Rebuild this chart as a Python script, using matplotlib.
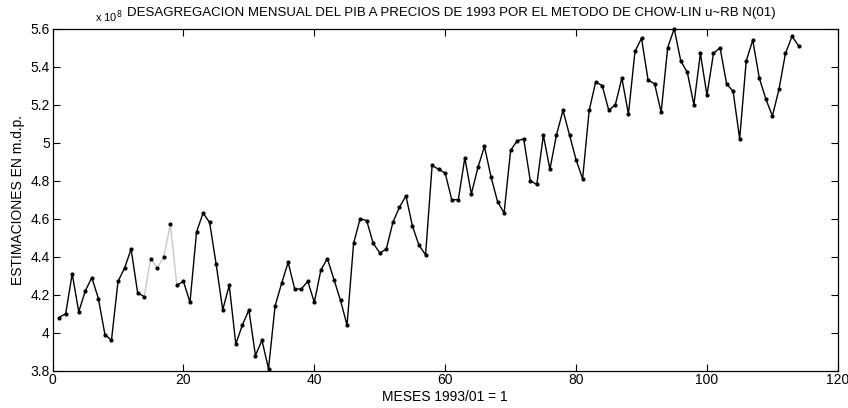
import matplotlib
matplotlib.use("Agg")
import matplotlib.pyplot as plt
import numpy as np

plt.rcParams['font.family'] = ['Liberation Sans', 'DejaVu Sans']

# monthly GDP estimates, units of 10^8 (m.d.p.), month 1 = 1993/01
meses = np.arange(1, 115)
pib = np.array([
    4.08, 4.10, 4.31, 4.11, 4.22, 4.29, 4.18, 3.99, 3.96, 4.27,
    4.34, 4.44, 4.21, 4.19, 4.39, 4.34, 4.40, 4.57, 4.25, 4.27,
    4.16, 4.53, 4.63, 4.58, 4.36, 4.12, 4.25, 3.94, 4.04, 4.12,
    3.88, 3.96, 3.81, 4.14, 4.26, 4.37, 4.23, 4.23, 4.27, 4.16,
    4.33, 4.39, 4.28, 4.17, 4.04, 4.47, 4.60, 4.59, 4.47, 4.42,
    4.44, 4.58, 4.66, 4.72, 4.56, 4.46, 4.41, 4.88, 4.86, 4.84,
    4.70, 4.70, 4.92, 4.73, 4.87, 4.98, 4.82, 4.69, 4.63, 4.96,
    5.01, 5.02, 4.80, 4.78, 5.04, 4.86, 5.04, 5.17, 5.04, 4.91,
    4.81, 5.17, 5.32, 5.30, 5.17, 5.20, 5.34, 5.15, 5.48, 5.55,
    5.33, 5.31, 5.16, 5.50, 5.60, 5.43, 5.37, 5.20, 5.47, 5.25,
    5.47, 5.50, 5.31, 5.27, 5.02, 5.43, 5.54, 5.34, 5.23, 5.14,
    5.28, 5.47, 5.56, 5.51])

xticks = [0, 20, 40, 60, 80, 100, 120]
yticks = [3.8, 4.0, 4.2, 4.4, 4.6, 4.8, 5.0, 5.2, 5.4, 5.6]
ylabels = ['3.8', '4', '4.2', '4.4', '4.6', '4.8', '5', '5.2', '5.4', '5.6']

fig = plt.figure(figsize=(8.48, 4.08), dpi=100)
ax = fig.add_axes([0.062, 0.0914, 0.926, 0.8383])

# faded part of the scanned line (months 14-19)
ax.plot(meses[13:19], pib[13:19], color='#c8c8c8', lw=1.0, zorder=1)
ax.plot(meses[:14], pib[:14], color='black', lw=1.0, zorder=2)
ax.plot(meses[18:], pib[18:], color='black', lw=1.0, zorder=2)
ax.plot(meses, pib, ls='none', marker='.', ms=4, color='black', zorder=3,
        clip_on=False)

ax.set_xlim(0, 120)
ax.set_ylim(3.8, 5.6)
ax.set_xticks(xticks)
ax.set_yticks(yticks)
ax.set_yticklabels(ylabels)
ax.tick_params(direction='in', top=True, right=True, length=5, width=0.8,
               labelsize=10, pad=2)
for s in ax.spines.values():
    s.set_linewidth(0.9)

ax.text(0.054, 1.012, r'x 10$^8$', transform=ax.transAxes, fontsize=8,
        ha='left', va='bottom')
ax.set_title('DESAGREGACION MENSUAL DEL PIB A PRECIOS DE 1993 POR EL METODO DE CHOW-LIN u~RB N(01)',
             fontsize=9.5, pad=9, x=0.508)
ax.set_xlabel('MESES 1993/01 = 1', fontsize=10, labelpad=2)
ax.set_ylabel('ESTIMACIONES EN m.d.p.', fontsize=10, labelpad=4)

fig.savefig('out.png', dpi=100)
